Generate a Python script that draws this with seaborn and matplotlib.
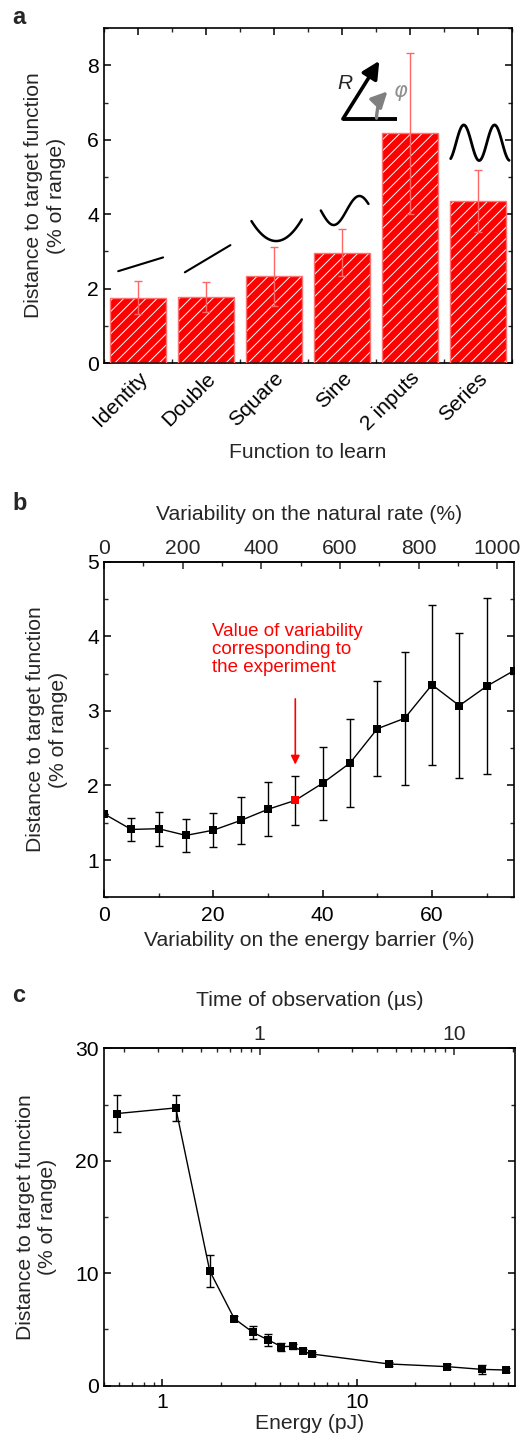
import numpy as np
import matplotlib
matplotlib.use('Agg')
import matplotlib.pyplot as plt
from matplotlib.patches import Rectangle
from matplotlib.ticker import MultipleLocator, FixedLocator, FuncFormatter, NullFormatter
import seaborn as sns

# panel a : error on each learned function
functions = ['Identity', 'Double', 'Square', 'Sine', '2 inputs', 'Series']
func_dist = [1.76, 1.78, 2.33, 2.97, 6.17, 4.36]
func_err = [0.44, 0.40, 0.79, 0.62, 2.17, 0.83]

# panel b : error vs variability on the energy barrier
barrier_var = [0, 5, 10, 15, 20, 25, 30, 35, 40, 45, 50, 55, 60, 65, 70, 75]
barrier_dist = [1.62, 1.41, 1.42, 1.33, 1.40, 1.53, 1.68, 1.80, 2.03, 2.30,
                2.76, 2.90, 3.35, 3.07, 3.33, 3.54]
barrier_err = [0.0, 0.16, 0.23, 0.22, 0.23, 0.31, 0.36, 0.33, 0.49, 0.59,
               0.64, 0.89, 1.07, 0.97, 1.18, 0.0]
exp_var = 35           # variability of the experiment (red point)
rate_per_barrier = 13.9    # % natural rate per % energy barrier (top axis)
rate_ticks = [0, 200, 400, 600, 800, 1000]

# panel c : error vs energy
energy = [0.584, 1.17, 1.75, 2.34, 2.92, 3.50, 4.09, 4.67, 5.26, 5.84,
          14.6, 29.2, 43.8, 58.4]
energy_dist = [24.2, 24.7, 10.2, 5.96, 4.74, 4.06, 3.47, 3.50, 3.08, 2.82,
               1.93, 1.69, 1.45, 1.39]
energy_err = [1.65, 1.15, 1.42, 0.20, 0.60, 0.55, 0.35, 0.20, 0.20, 0.20,
              0.20, 0.25, 0.40, 0.20]
pj_per_us = 3.16       # energy (pJ) per microsecond of observation (top axis)

FS = 15.2

sns.set_style('ticks')
plt.rcParams['font.family'] = ['Liberation Sans', 'DejaVu Sans']
plt.rcParams['font.size'] = FS
plt.rcParams['axes.linewidth'] = 1.2
plt.rcParams['xtick.direction'] = 'in'
plt.rcParams['ytick.direction'] = 'in'
plt.rcParams['hatch.linewidth'] = 0.7

ylab = 'Distance to target function\n(% of range)'

fig = plt.figure(figsize=(5.25, 14.41), dpi=100)
ax1 = fig.add_axes([0.198, 0.748, 0.777, 0.2325])
ax2 = fig.add_axes([0.198, 0.3773, 0.781, 0.2329])
ax3 = fig.add_axes([0.198, 0.0384, 0.783, 0.2341])


def style_ticks(ax, top=True):
    ax.tick_params(which='major', length=5, width=1.1, right=True, top=top,
                   labelsize=FS, colors='black')
    ax.tick_params(which='minor', length=3, width=1, right=True, top=top)
    for s in ax.spines.values():
        s.set_color('black')


# ---------------- panel a ----------------
sns.barplot(x=functions, y=func_dist, color='red', saturation=1, width=0.82,
            errorbar=None, ax=ax1)
for p in list(ax1.patches):
    p.set_hatch('///')
    p.set_edgecolor('white')
    p.set_linewidth(0)
    ax1.add_patch(Rectangle(p.get_xy(), p.get_width(), p.get_height(),
                            fill=False, edgecolor='#ff7070', lw=1, zorder=3))
ax1.errorbar(range(len(functions)), func_dist, yerr=func_err, fmt='none',
             ecolor='#ff6666', elinewidth=1, capsize=3, capthick=1, zorder=4)
ax1.set_xlim(-0.5, len(functions) - 0.5)
ax1.set_ylim(0, 9)
ax1.yaxis.set_major_locator(MultipleLocator(2))
ax1.yaxis.set_minor_locator(MultipleLocator(1))
ax1.xaxis.set_minor_locator(FixedLocator(np.arange(len(functions) + 1) - 0.5))
style_ticks(ax1)
ax1.tick_params(axis='x', which='major', pad=4)
plt.setp(ax1.get_xticklabels(), rotation=45, ha='right', rotation_mode='anchor')
ax1.set_xlabel('Function to learn', fontsize=FS)
ax1.xaxis.set_label_coords(0.5, -0.266)
ax1.xaxis.label.set_va('center')
ax1.set_ylabel(ylab, fontsize=FS, linespacing=1.25)
ax1.yaxis.set_label_coords(-0.145, 0.5)
ax1.yaxis.label.set_va('center')

# little sketches of each target function above the bars
t = np.linspace(0, 1, 60)
ax1.plot(0 - 0.29 + 0.66 * t, 2.47 + 0.37 * t, color='black', lw=1.5)
ax1.plot(1 - 0.31 + 0.67 * t, 2.44 + 0.73 * t, color='black', lw=1.5)
ax1.plot(2 - 0.33 + 0.74 * t, 3.28 + 0.58 * ((t - 0.49) / 0.51) ** 2, color='black', lw=1.8)
ax1.plot(3 - 0.31 + 0.70 * t, 4.1 - 0.39 * np.sin(1.85 * np.pi * t), color='black', lw=1.8)
ax1.plot(5 - 0.40 + 0.86 * t, 5.92 - 0.48 * np.cos(np.pi * (0.15 + 3.8 * t)), color='black', lw=2)
ax1.plot([4 - 0.985, 4 - 0.19], [6.56, 6.56], color='black', lw=2.8, solid_capstyle='butt')
ax1.annotate('', xy=(4 - 0.45, 8.12), xytext=(4 - 0.985, 6.56),
             arrowprops=dict(arrowstyle='-|>', color='black', lw=2.6, mutation_scale=26,
                             shrinkA=0, shrinkB=0))
ax1.annotate('', xy=(4 - 0.33, 7.3), xytext=(4 - 0.49, 6.58),
             arrowprops=dict(arrowstyle='-|>', color='#808080', lw=2.4, mutation_scale=24,
                             shrinkA=0, shrinkB=0, connectionstyle='arc3,rad=-0.2'))
ax1.text(4 - 0.95, 7.5, 'R', fontsize=15, style='italic', ha='center', va='center')
ax1.text(4 - 0.14, 7.27, r'$\varphi$', fontsize=15, color='#909090', ha='center', va='center')

# ---------------- panel b ----------------
sns.lineplot(x=barrier_var, y=barrier_dist, color='black', lw=1, marker='s',
             markersize=5.5, markeredgewidth=0, ax=ax2)
ax2.errorbar(barrier_var, barrier_dist, yerr=barrier_err, fmt='none', ecolor='black',
             elinewidth=1, capsize=3, capthick=1)
i_exp = barrier_var.index(exp_var)
ax2.plot([exp_var], [barrier_dist[i_exp]], 's', color='red', ms=5.5, mew=0, zorder=5)
ax2.set_xlim(0, 75)
ax2.set_ylim(0.5, 5)
ax2.xaxis.set_major_locator(MultipleLocator(20))
ax2.xaxis.set_minor_locator(MultipleLocator(10))
ax2.yaxis.set_major_locator(MultipleLocator(1))
ax2.yaxis.set_minor_locator(MultipleLocator(0.5))
style_ticks(ax2, top=False)
ax2.tick_params(axis='x', which='major', pad=6)
top2 = ax2.secondary_xaxis('top', functions=(lambda v: v * rate_per_barrier,
                                             lambda r: r / rate_per_barrier))
top2.xaxis.set_major_locator(FixedLocator(rate_ticks))
top2.xaxis.set_minor_locator(FixedLocator(np.arange(0, rate_ticks[-1] + 1, 100)))
top2.xaxis.set_minor_formatter(NullFormatter())
top2.tick_params(which='major', length=5, width=1.1, pad=3, labelsize=FS)
top2.tick_params(which='minor', length=3, width=1)
top2.set_xlabel('Variability on the natural rate (%)', fontsize=FS, labelpad=13)
ax2.set_xlabel('Variability on the energy barrier (%)', fontsize=FS)
ax2.xaxis.set_label_coords(0.5, -0.13)
ax2.xaxis.label.set_va('center')
ax2.set_ylabel(ylab, fontsize=FS, linespacing=1.25)
ax2.yaxis.set_label_coords(-0.138, 0.5)
ax2.yaxis.label.set_va('center')
ax2.text(19.7, 4.18, 'Value of variability\ncorresponding to\nthe experiment',
         color='red', fontsize=13.5, linespacing=1.1, va='top', ha='left')
ax2.annotate('', xy=(exp_var, 2.28), xytext=(exp_var, 3.16),
             arrowprops=dict(arrowstyle='-|>', color='red', lw=1.2, mutation_scale=13,
                             shrinkA=0, shrinkB=0))

# ---------------- panel c ----------------
sns.lineplot(x=energy, y=energy_dist, color='black', lw=1, marker='s',
             markersize=6, markeredgewidth=0, ax=ax3)
ax3.errorbar(energy, energy_dist, yerr=energy_err, fmt='none', ecolor='black',
             elinewidth=1, capsize=3, capthick=1)
ax3.set_xscale('log')
ax3.set_xlim(0.5, 65)
ax3.set_ylim(0, 30)
ax3.yaxis.set_major_locator(MultipleLocator(10))
ax3.yaxis.set_minor_locator(MultipleLocator(5))
gfmt = FuncFormatter(lambda v, p: f'{v:g}')
ax3.xaxis.set_major_formatter(gfmt)
ax3.xaxis.set_minor_formatter(NullFormatter())
style_ticks(ax3, top=False)
ax3.tick_params(axis='x', which='major', pad=5)
top3 = ax3.secondary_xaxis('top', functions=(lambda e: e / pj_per_us,
                                             lambda tt: tt * pj_per_us))
top3.xaxis.set_major_locator(FixedLocator([1, 10]))
top3.xaxis.set_major_formatter(gfmt)
top3.xaxis.set_minor_formatter(NullFormatter())
top3.tick_params(which='major', length=5, width=1.1, pad=3, labelsize=FS)
top3.tick_params(which='minor', length=3, width=1)
top3.set_xlabel('Time of observation (\u00b5s)', fontsize=FS, labelpad=14)
ax3.set_xlabel('Energy (pJ)', fontsize=FS)
ax3.xaxis.set_label_coords(0.5, -0.1135)
ax3.xaxis.label.set_va('center')
ax3.set_ylabel(ylab, fontsize=FS, linespacing=1.25)
ax3.yaxis.set_label_coords(-0.164, 0.5)
ax3.yaxis.label.set_va('center')

# panel letters
for letter, ypx in [('a', 18), ('b', 503), ('c', 995)]:
    fig.text(12 / 525, 1 - ypx / 1441, letter, fontsize=17, fontweight='bold',
             ha='left', va='center')

fig.savefig('out.png', dpi=100)
